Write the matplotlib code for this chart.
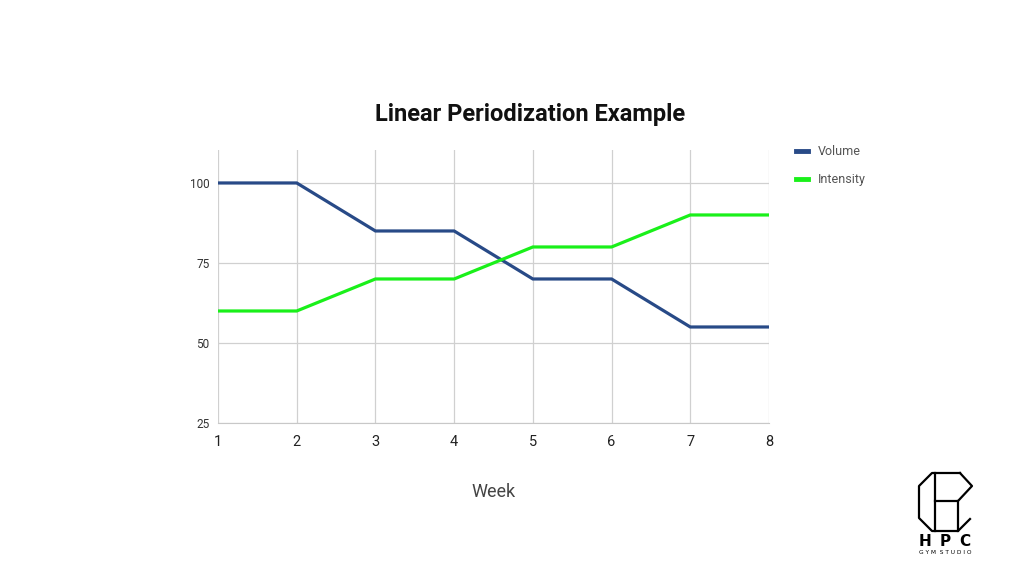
import matplotlib.pyplot as plt
from matplotlib.lines import Line2D

plt.rcParams['font.family'] = ['Roboto', 'DejaVu Sans']

weeks = [1, 2, 3, 4, 5, 6, 7, 8]
volume = [100, 100, 85, 85, 70, 70, 55, 55]
intensity = [60, 60, 70, 70, 80, 80, 90, 90]
y_ticks = [25, 50, 75, 100]

fig = plt.figure(figsize=(10.24, 5.70), dpi=100)
ax = fig.add_axes([218 / 1024, 1 - 423 / 570, 551 / 1024, 273 / 570])

ax.plot(weeks, volume, color='#284a87', lw=2.3, label='Volume', solid_joinstyle='miter', zorder=3)
ax.plot(weeks, intensity, color='#1af01a', lw=2.3, label='Intensity', solid_joinstyle='miter', zorder=3)

ax.set_xlim(1, 8)
ax.set_ylim(25, 110.3)
ax.set_xticks(weeks)
ax.set_yticks(y_ticks)
ax.grid(True, color='#d0d0d0', lw=0.9)
for s in ['top', 'right', 'left']:
    ax.spines[s].set_visible(False)
ax.spines['bottom'].set_color('#c8c8c8')
ax.tick_params(length=0)
ax.tick_params(axis='y', labelsize=8.5, colors='#333333', pad=6)
ax.tick_params(axis='x', labelsize=10.5, colors='#222222', pad=9)
ax.set_xlabel('Week', fontsize=13, color='#444444', labelpad=24)

fig.text(530 / 1024, 1 - 114 / 570, 'Linear Periodization Example', ha='center', va='center',
         fontsize=17, fontweight='bold', color='#111111')

leg = ax.legend(loc='upper left', bbox_to_anchor=(785 / 1024, 1 - 134 / 570), bbox_transform=fig.transFigure,
                frameon=False, fontsize=9, labelcolor='#555555', handlelength=0.9, handletextpad=0.8,
                labelspacing=1.2)
for h in leg.get_lines():
    h.set_linewidth(3.5)

# logo
lx = fig.add_axes([0, 0, 1, 1], facecolor='none')
lx.set_xlim(0, 1024)
lx.set_ylim(570, 0)
lx.axis('off')
outer = [(960, 473), (932, 473), (919, 486), (919, 518), (932, 531), (958, 531), (970, 519)]
lx.add_line(Line2D([p[0] for p in outer], [p[1] for p in outer], color='black', lw=1.6))
bowl = [(960, 473), (972, 486), (958, 501), (935, 501)]
lx.add_line(Line2D([p[0] for p in bowl], [p[1] for p in bowl], color='black', lw=1.6))
lx.add_line(Line2D([935, 935], [473, 531], color='black', lw=1.6))
lx.add_line(Line2D([958, 958], [501, 531], color='black', lw=1.6))
for letter, x in zip('HPC', [925, 945, 965]):
    lx.text(x, 541, letter, ha='center', va='center', fontsize=11, fontweight='bold',
            family='DejaVu Sans', color='black')
lx.text(945, 553, 'G Y M  S T U D I O', ha='center', va='center', fontsize=4.2,
        family='DejaVu Sans', color='black')

fig.savefig('out.png', dpi=100)
